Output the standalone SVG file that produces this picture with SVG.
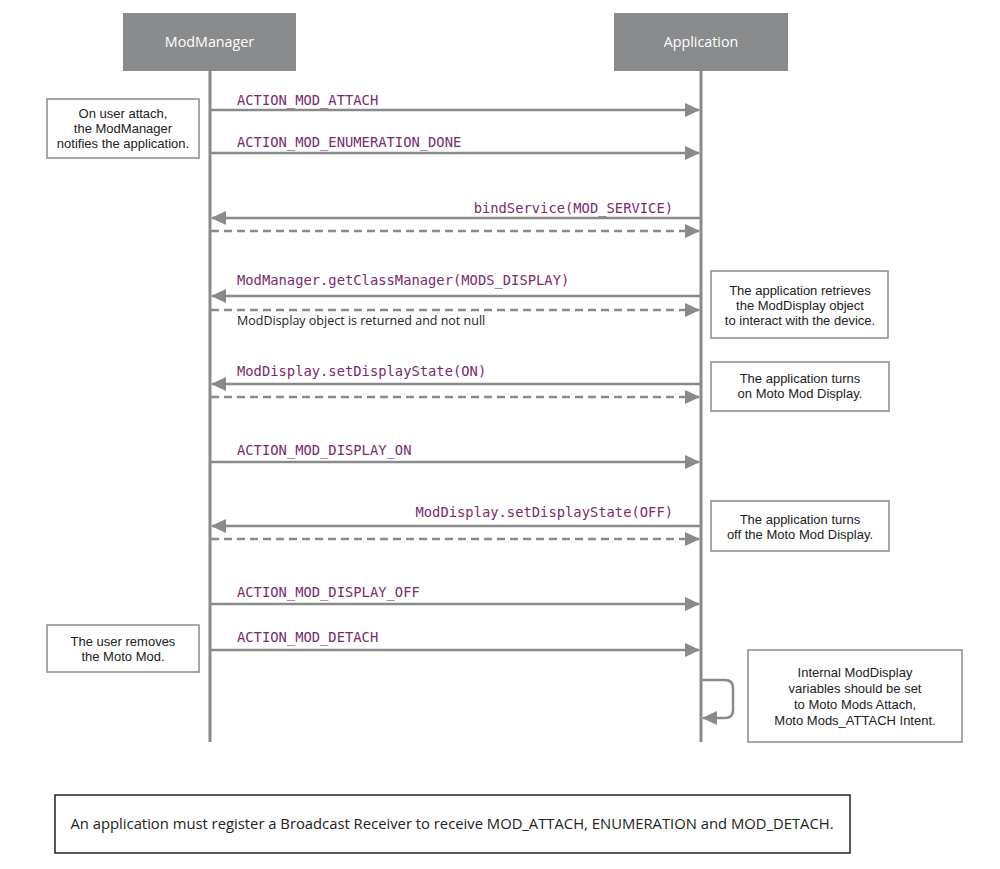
<svg xmlns="http://www.w3.org/2000/svg" width="1000" height="869" viewBox="0 0 1000 869">
<style>
.hdr{fill:#8a8b8d}
.hdrt{fill:#ffffff;font-family:"Open Sans","Liberation Sans",sans-serif;font-size:14.3px;text-anchor:middle}
.life{stroke:#8a8a8a;stroke-width:3;fill:none}
.msg{stroke:#8a8a8a;stroke-width:2.5;fill:none}
.dash{stroke-dasharray:8 5}
.lbl{fill:#7a2a6e;font-family:"DejaVu Sans Mono","Liberation Mono",monospace;font-size:13.8px}
.note{fill:#ffffff;stroke:#8a8a8a;stroke-width:1.5}
.nt{fill:#222222;font-family:"Liberation Sans","Open Sans",sans-serif;font-size:13px;text-anchor:middle}
.small{fill:#222222;font-family:"Open Sans","Liberation Sans",sans-serif;font-size:12.5px}
.bt{fill:#222222;font-family:"Open Sans","Liberation Sans",sans-serif;font-size:14.8px;text-anchor:middle}
</style>
<defs>
<marker id="ah" markerUnits="userSpaceOnUse" markerWidth="16" markerHeight="14" refX="14" refY="7" orient="auto">
<path d="M0,0 L15,7 L0,14 Z" fill="#8a8a8a"/>
</marker>
</defs>
<rect width="1000" height="869" fill="#ffffff"/>

<g id="modmanager">
<rect class="hdr" x="123" y="13" width="173" height="58"/>
<text class="hdrt" x="209.5" y="47">ModManager</text>
<line class="life" x1="210" y1="71" x2="210" y2="742"/>
</g>
<g id="application">
<rect class="hdr" x="614" y="13" width="174" height="58"/>
<text class="hdrt" x="701" y="47">Application</text>
<line class="life" x1="701" y1="71" x2="701" y2="742"/>
</g>

<g id="note-attach">
<rect class="note" x="47" y="99" width="152" height="59"/>
<text class="nt" x="123" y="118">On user attach,</text>
<text class="nt" x="123" y="133">the ModManager</text>
<text class="nt" x="123" y="148">notifies the application.</text>
</g>
<g id="note-retrieve">
<rect class="note" x="711" y="271" width="177" height="67"/>
<text class="nt" x="800" y="295">The application retrieves</text>
<text class="nt" x="800" y="310">the ModDisplay object</text>
<text class="nt" x="800" y="325">to interact with the device.</text>
</g>
<g id="note-on">
<rect class="note" x="711" y="362" width="178" height="49"/>
<text class="nt" x="800" y="383">The application turns</text>
<text class="nt" x="800" y="398">on Moto Mod Display.</text>
</g>
<g id="note-off">
<rect class="note" x="711" y="501" width="178" height="50"/>
<text class="nt" x="800" y="524">The application turns</text>
<text class="nt" x="800" y="539">off the Moto Mod Display.</text>
</g>
<g id="note-remove">
<rect class="note" x="47" y="625" width="152" height="47"/>
<text class="nt" x="123" y="646">The user removes</text>
<text class="nt" x="123" y="661">the Moto Mod.</text>
</g>
<g id="note-internal">
<rect class="note" x="748" y="650" width="214" height="92"/>
<text class="nt" x="855" y="677">Internal ModDisplay</text>
<text class="nt" x="855" y="693">variables should be set</text>
<text class="nt" x="855" y="709">to Moto Mods Attach,</text>
<text class="nt" x="855" y="725">Moto Mods_ATTACH Intent.</text>
</g>
<g id="note-bottom">
<rect x="55" y="795" width="795" height="58" fill="#ffffff" stroke="#222222" stroke-width="1.5"/>
<text class="bt" x="452" y="829">An application must register a Broadcast Receiver to receive MOD_ATTACH, ENUMERATION and MOD_DETACH.</text>
</g>

<g id="connectors">
<line class="msg" x1="211" y1="110" x2="699" y2="110" marker-end="url(#ah)"/>
<text class="lbl" x="237" y="105">ACTION_MOD_ATTACH</text>
<line class="msg" x1="211" y1="153" x2="699" y2="153" marker-end="url(#ah)"/>
<text class="lbl" x="237" y="147">ACTION_MOD_ENUMERATION_DONE</text>
<line class="msg" x1="700" y1="218" x2="212" y2="218" marker-end="url(#ah)"/>
<text class="lbl" x="673" y="213" text-anchor="end">bindService(MOD_SERVICE)</text>
<line class="msg dash" x1="211" y1="231" x2="699" y2="231" marker-end="url(#ah)"/>
<line class="msg" x1="700" y1="296" x2="212" y2="296" marker-end="url(#ah)"/>
<text class="lbl" x="237" y="285">ModManager.getClassManager(MODS_DISPLAY)</text>
<line class="msg dash" x1="211" y1="310" x2="699" y2="310" marker-end="url(#ah)"/>
<text class="small" x="237" y="325">ModDisplay object is returned and not null</text>
<line class="msg" x1="700" y1="384" x2="212" y2="384" marker-end="url(#ah)"/>
<text class="lbl" x="237" y="376">ModDisplay.setDisplayState(ON)</text>
<line class="msg dash" x1="211" y1="397" x2="699" y2="397" marker-end="url(#ah)"/>
<line class="msg" x1="211" y1="462" x2="699" y2="462" marker-end="url(#ah)"/>
<text class="lbl" x="237" y="455">ACTION_MOD_DISPLAY_ON</text>
<line class="msg" x1="700" y1="526" x2="212" y2="526" marker-end="url(#ah)"/>
<text class="lbl" x="673" y="517" text-anchor="end">ModDisplay.setDisplayState(OFF)</text>
<line class="msg dash" x1="211" y1="539" x2="699" y2="539" marker-end="url(#ah)"/>
<line class="msg" x1="211" y1="604" x2="699" y2="604" marker-end="url(#ah)"/>
<text class="lbl" x="237" y="597">ACTION_MOD_DISPLAY_OFF</text>
<line class="msg" x1="211" y1="650" x2="699" y2="650" marker-end="url(#ah)"/>
<text class="lbl" x="237" y="642">ACTION_MOD_DETACH</text>
<path class="msg" d="M702,680 L725,680 Q733,680 733,688 L733,710 Q733,718 725,718 L703,718" marker-end="url(#ah)"/>
</g>
</svg>
